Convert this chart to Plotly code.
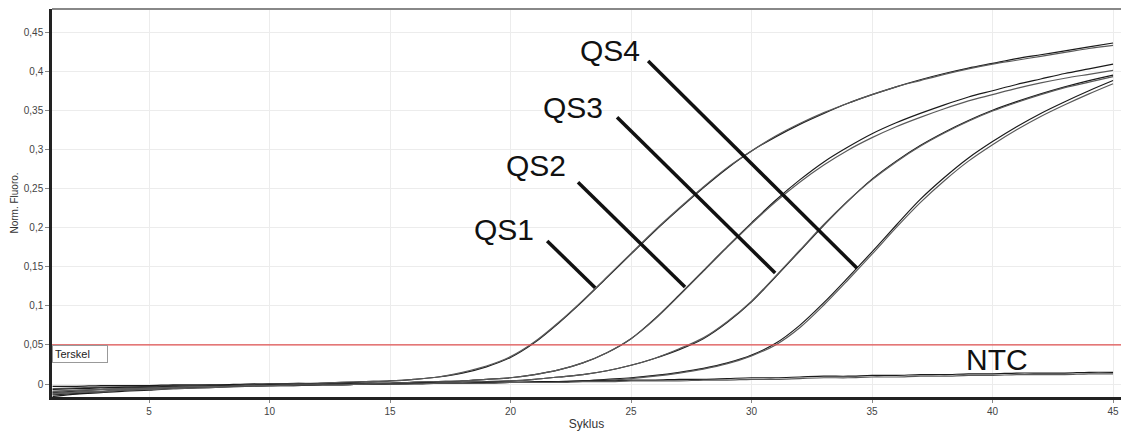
import plotly.graph_objects as go

cycles = list(range(1, 46))

qs1_a = [-0.011, -0.009, -0.007, -0.006, -0.004, -0.003, -0.002, -0.002, -0.001, 0.000,
         0.000, 0.001, 0.002, 0.003, 0.004, 0.006, 0.009, 0.014, 0.022, 0.034,
         0.053, 0.078, 0.106, 0.136, 0.166, 0.196, 0.224, 0.251, 0.276, 0.298,
         0.316, 0.332, 0.346, 0.359, 0.370, 0.380, 0.389, 0.397, 0.404, 0.410,
         0.416, 0.421, 0.426, 0.431, 0.436]
qs1_b = [-0.006, -0.005, -0.004, -0.004, -0.003, -0.002, -0.002, -0.001, -0.001, 0.000,
         0.001, 0.001, 0.002, 0.003, 0.004, 0.006, 0.009, 0.015, 0.023, 0.035,
         0.054, 0.079, 0.107, 0.137, 0.167, 0.197, 0.225, 0.252, 0.277, 0.298,
         0.317, 0.333, 0.347, 0.359, 0.370, 0.380, 0.388, 0.396, 0.403, 0.409,
         0.414, 0.419, 0.424, 0.429, 0.433]
qs2_a = [-0.014, -0.012, -0.010, -0.008, -0.006, -0.005, -0.004, -0.003, -0.002, -0.002,
         -0.001, 0.000, 0.000, 0.001, 0.001, 0.002, 0.003, 0.004, 0.006, 0.008,
         0.012, 0.018, 0.027, 0.040, 0.058, 0.084, 0.114, 0.145, 0.176, 0.206,
         0.235, 0.261, 0.284, 0.303, 0.320, 0.334, 0.346, 0.357, 0.367, 0.375,
         0.383, 0.390, 0.397, 0.403, 0.409]
qs2_b = [-0.009, -0.008, -0.007, -0.006, -0.005, -0.004, -0.003, -0.003, -0.002, -0.001,
         -0.001, 0.000, 0.000, 0.001, 0.001, 0.002, 0.003, 0.004, 0.006, 0.008,
         0.012, 0.018, 0.027, 0.040, 0.058, 0.083, 0.113, 0.144, 0.175, 0.205,
         0.233, 0.258, 0.280, 0.299, 0.315, 0.329, 0.341, 0.352, 0.362, 0.370,
         0.378, 0.385, 0.391, 0.396, 0.401]
qs3_a = [-0.003, -0.003, -0.002, -0.002, -0.002, -0.001, -0.001, -0.001, 0.000, 0.000,
         0.000, 0.000, 0.001, 0.001, 0.001, 0.002, 0.002, 0.003, 0.003, 0.004,
         0.006, 0.009, 0.012, 0.017, 0.024, 0.033, 0.044, 0.058, 0.079, 0.105,
         0.137, 0.170, 0.203, 0.234, 0.262, 0.285, 0.305, 0.322, 0.337, 0.350,
         0.361, 0.371, 0.380, 0.388, 0.395]
qs3_b = [-0.012, -0.010, -0.009, -0.007, -0.006, -0.005, -0.004, -0.003, -0.002, -0.001,
         -0.001, 0.000, 0.000, 0.001, 0.001, 0.002, 0.002, 0.003, 0.003, 0.004,
         0.006, 0.009, 0.012, 0.017, 0.024, 0.033, 0.045, 0.059, 0.080, 0.106,
         0.138, 0.171, 0.204, 0.234, 0.261, 0.284, 0.304, 0.321, 0.336, 0.349,
         0.360, 0.370, 0.379, 0.386, 0.393]
qs4_a = [-0.016, -0.013, -0.011, -0.009, -0.008, -0.006, -0.005, -0.004, -0.003, -0.002,
         -0.002, -0.001, -0.001, 0.000, 0.000, 0.001, 0.001, 0.001, 0.002, 0.002,
         0.002, 0.003, 0.004, 0.006, 0.008, 0.011, 0.015, 0.020, 0.027, 0.037,
         0.052, 0.075, 0.104, 0.136, 0.169, 0.203, 0.236, 0.264, 0.289, 0.310,
         0.329, 0.346, 0.361, 0.375, 0.388]
qs4_b = [-0.013, -0.011, -0.010, -0.008, -0.007, -0.006, -0.005, -0.004, -0.003, -0.002,
         -0.002, -0.001, -0.001, 0.000, 0.000, 0.000, 0.001, 0.001, 0.001, 0.002,
         0.002, 0.003, 0.004, 0.005, 0.007, 0.010, 0.014, 0.019, 0.026, 0.036,
         0.050, 0.072, 0.101, 0.133, 0.166, 0.200, 0.232, 0.260, 0.285, 0.306,
         0.325, 0.342, 0.357, 0.371, 0.384]
ntc_a = [-0.007, -0.006, -0.005, -0.004, -0.004, -0.003, -0.003, -0.002, -0.002, -0.001,
         -0.001, -0.001, 0.000, 0.000, 0.000, 0.001, 0.001, 0.001, 0.002, 0.002,
         0.003, 0.003, 0.004, 0.004, 0.005, 0.005, 0.006, 0.006, 0.007, 0.008,
         0.008, 0.009, 0.010, 0.010, 0.011, 0.011, 0.012, 0.012, 0.013, 0.013,
         0.014, 0.014, 0.014, 0.015, 0.015]
ntc_b = [-0.010, -0.008, -0.007, -0.006, -0.005, -0.004, -0.003, -0.003, -0.002, -0.002,
         -0.001, -0.001, -0.001, 0.000, 0.000, 0.000, 0.001, 0.001, 0.001, 0.002,
         0.002, 0.002, 0.003, 0.003, 0.004, 0.004, 0.004, 0.005, 0.005, 0.006,
         0.006, 0.007, 0.008, 0.008, 0.009, 0.009, 0.010, 0.010, 0.011, 0.011,
         0.012, 0.012, 0.012, 0.013, 0.013]

series = [qs1_a, qs1_b, qs2_a, qs2_b, qs3_a, qs3_b, qs4_a, qs4_b, ntc_a, ntc_b]

threshold = 0.05

label_names = ["QS1", "QS2", "QS3", "QS4"]
label_x = [19.73, 21.06, 22.59, 24.13]
label_y = [0.198, 0.280, 0.354, 0.427]
pointer_x0 = [21.52, 22.80, 24.42, 25.71]
pointer_y0 = [0.183, 0.258, 0.341, 0.413]
pointer_x1 = [23.51, 27.24, 30.98, 34.38]
pointer_y1 = [0.123, 0.124, 0.142, 0.148]

ytick_vals = [0, 0.05, 0.1, 0.15, 0.2, 0.25, 0.3, 0.35, 0.4, 0.45]
ytick_text = ["0", "0,05", "0,1", "0,15", "0,2", "0,25", "0,3", "0,35", "0,4", "0,45"]
xtick_vals = [5, 10, 15, 20, 25, 30, 35, 40, 45]

fig = go.Figure()
colors = ["#1a1a1a", "#5a5a5a"]
for i, s in enumerate(series):
    fig.add_trace(go.Scatter(x=cycles, y=s, mode="lines",
                             line=dict(color=colors[i % 2], width=1.2, shape="spline", smoothing=0.9),
                             showlegend=False, hoverinfo="skip"))

# threshold
fig.add_shape(type="line", xref="paper", x0=0, x1=1, yref="y", y0=threshold, y1=threshold,
              line=dict(color="#e05050", width=1.2))
fig.add_annotation(xref="paper", x=0.0, yref="y", y=threshold, xanchor="left", yanchor="top",
                   text="Terskel", showarrow=False, bgcolor="white", bordercolor="#999999",
                   borderwidth=1, borderpad=2, font=dict(family="Liberation Sans", size=11, color="#222"),
                   width=50, align="left")

for n, lx, ly, x0, y0, x1, y1 in zip(label_names, label_x, label_y, pointer_x0, pointer_y0, pointer_x1, pointer_y1):
    fig.add_annotation(x=lx, y=ly, text=n, showarrow=False, xanchor="center", yanchor="middle",
                       font=dict(family="Liberation Sans", size=30, color="#111"))
    fig.add_shape(type="line", x0=x0, y0=y0, x1=x1, y1=y1, line=dict(color="#111", width=3.5))

fig.add_annotation(x=40.19, y=0.031, text="NTC", showarrow=False, xanchor="center", yanchor="middle",
                   font=dict(family="Liberation Sans", size=30, color="#111"))

# top border
fig.add_shape(type="line", xref="paper", yref="paper", x0=0, x1=1, y0=1, y1=1,
              line=dict(color="#888888", width=2))

fig.update_layout(
    width=1121, height=432,
    margin=dict(l=52, r=0, t=9, b=35),
    paper_bgcolor="white", plot_bgcolor="white",
    font=dict(family="Liberation Sans", size=10, color="#333"),
    xaxis=dict(range=[0.975, 45.33], tickvals=xtick_vals, showgrid=True, gridcolor="#ececec",
               gridwidth=1, zeroline=False, showline=True, linecolor="#222", linewidth=2.5,
               ticks="outside", ticklen=3, tickcolor="#888",
               title=dict(text="Syklus", font=dict(size=12, color="#333"), standoff=4),
               tickfont=dict(size=10, color="#444")),
    yaxis=dict(range=[-0.0166, 0.4795], tickvals=ytick_vals, ticktext=ytick_text,
               showgrid=True, gridcolor="#ececec", gridwidth=1, zeroline=False,
               showline=True, linecolor="#222", linewidth=2.5,
               ticks="outside", ticklen=4, tickcolor="#888",
               title=dict(text="Norm. Fluoro.", font=dict(size=10, color="#333"), standoff=4),
               tickfont=dict(size=10, color="#444")),
)

fig.write_html("out.html")
